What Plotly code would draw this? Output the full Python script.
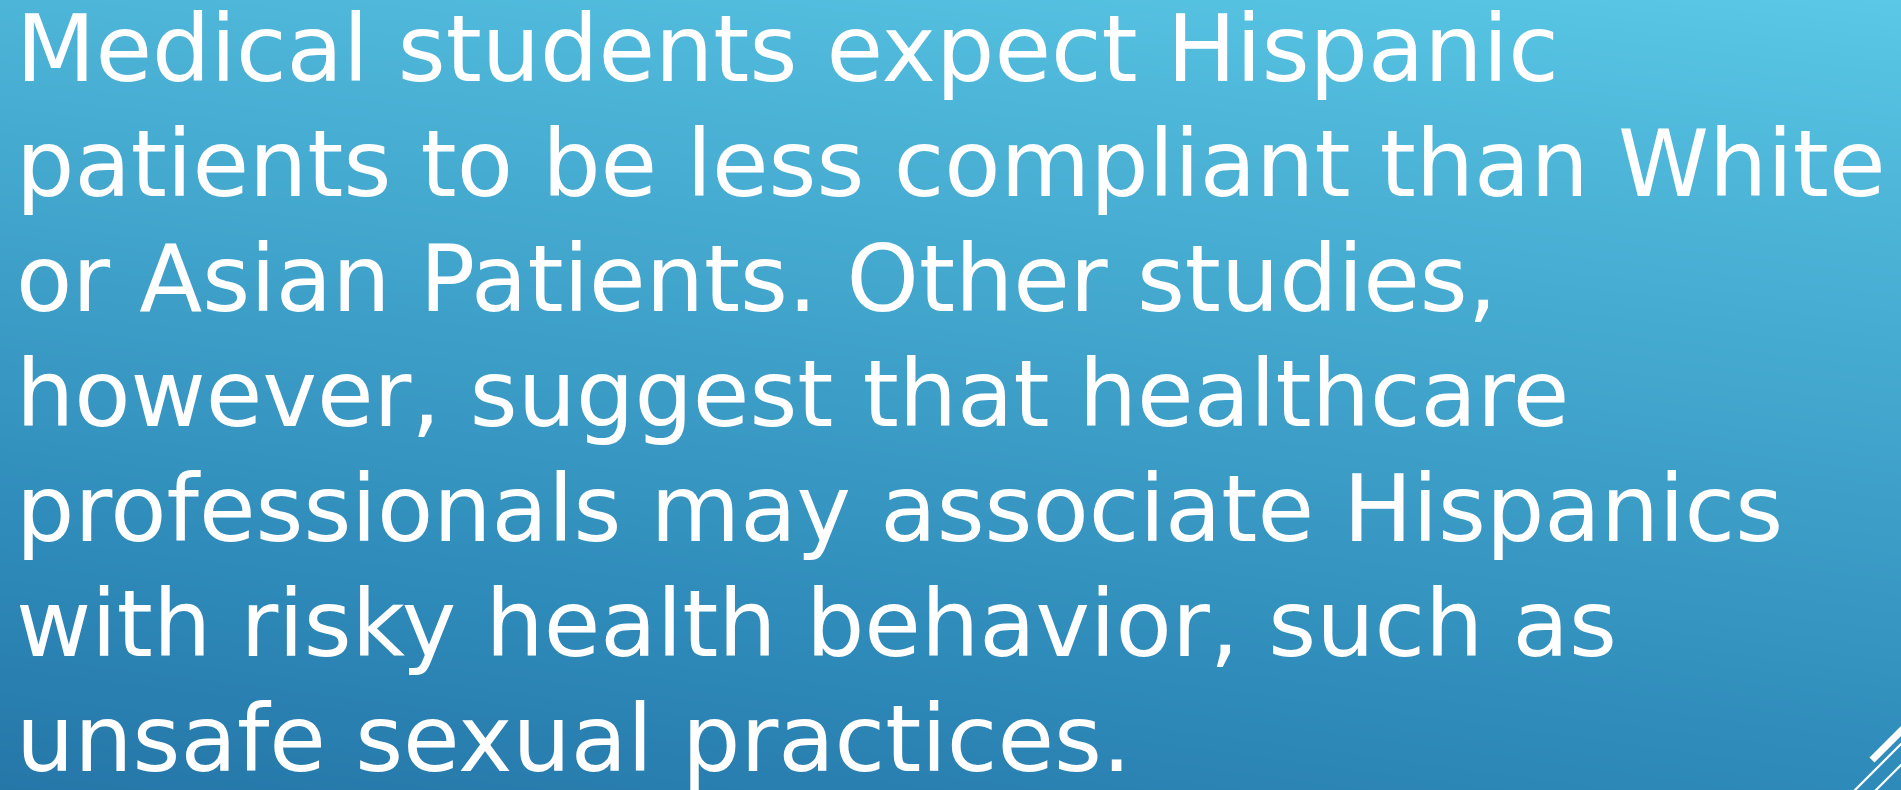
import plotly.graph_objects as go

# ---- content ----
lines = [
    "Medical students expect Hispanic",
    "patients to be less compliant than White",
    "or Asian Patients. Other studies,",
    "however, suggest that healthcare",
    "professionals may associate Hispanics",
    "with risky health behavior, such as",
    "unsafe sexual practices.",
]

# background gradient corner colours
grad_stops = [0.0, 0.25, 0.8, 1.0]
grad_colors = ["#2577A8", "#2E8AB9", "#4DB5D8", "#5AC8E6"]
# scalar field at corners: rows = [bottom, top], cols = [left, right]
grad_z = [[0.0, 0.25], [0.8, 1.0]]

W, H = 1901, 790
FS = 92
LINE_GAP = 115
FIRST_BASELINE = 90
TEXT_X = 16

fig = go.Figure()

fig.add_trace(go.Heatmap(
    z=grad_z, x=[0, W], y=[H, 0],
    zsmooth="best", showscale=False, hoverinfo="skip",
    colorscale=[[s, c] for s, c in zip(grad_stops, grad_colors)],
    zmin=0, zmax=1,
))

ys = [FIRST_BASELINE + i * LINE_GAP - 0.35 * FS for i in range(len(lines))]
fig.add_trace(go.Scatter(
    x=[TEXT_X] * len(lines), y=ys, text=lines, mode="text",
    textposition="middle right",
    textfont=dict(family="DejaVu Sans", size=FS, color="white"),
    hoverinfo="skip", showlegend=False,
))

# decorative corner strokes
deco = [
    ((1872, 760), (1925, 707), 7),
    ((1852, 793), (1910, 735), 2.2),
    ((1873, 793), (1910, 756), 2.2),
]
for (x0, y0), (x1, y1), w in deco:
    fig.add_shape(type="line", x0=x0, y0=y0, x1=x1, y1=y1,
                  line=dict(color="white", width=w), layer="above")

fig.update_layout(
    width=W, height=H,
    margin=dict(l=0, r=0, t=0, b=0),
    paper_bgcolor="#3A9CC8", plot_bgcolor="#3A9CC8",
    xaxis=dict(range=[0, W], visible=False, fixedrange=True),
    yaxis=dict(range=[H, 0], visible=False, fixedrange=True),
    showlegend=False,
)

fig.write_html(
    "out.html",
    config={"displayModeBar": False},
    post_script="document.body.style.margin='0';document.body.style.overflow='hidden';",
)
